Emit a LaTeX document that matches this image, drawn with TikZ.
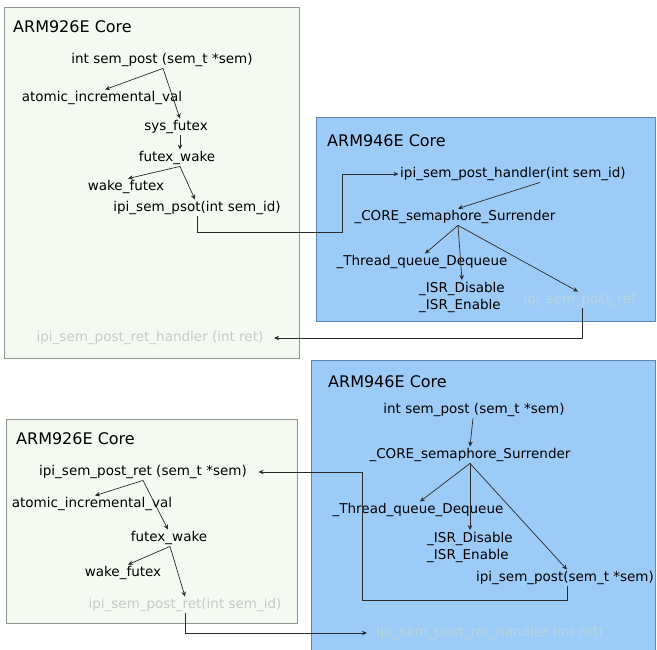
\documentclass[tikz,border=0pt]{standalone}
\usepackage{fontspec}
\setmainfont{DejaVu Sans}
\usetikzlibrary{arrows.meta}
\definecolor{gfill}{HTML}{F4FAF2}
\definecolor{gline}{HTML}{8E958E}
\definecolor{bfill}{HTML}{9DCBF7}
\definecolor{bline}{HTML}{5B87B5}
\definecolor{lnk}{HTML}{2A2A2A}
\definecolor{fadeg}{HTML}{C6CBC6}
\definecolor{fadeb}{HTML}{B8D4DC}
\tikzset{
  greenbox/.style={draw=gline, fill=gfill, line width=0.8pt},
  bluebox/.style={draw=bline, fill=bfill, line width=0.8pt},
  ttl/.style={anchor=west, inner sep=0pt, font=\fontsize{16}{19}\selectfont},
  fn/.style={inner sep=1.5pt, font=\fontsize{13.5}{17}\selectfont},
  fnfade/.style={fn, text=fadeg},
  fnfadeb/.style={fn, text=fadeb},
  arr/.style={draw=lnk, line width=0.7pt, -{Stealth[length=5pt,width=4.5pt]}},
}
\begin{document}
\begin{tikzpicture}[x=1pt,y=-1pt]
\useasboundingbox (0,0) rectangle (657,650);
% boxes
\path[greenbox] (4,7) rectangle (299,358);
\path[bluebox] (316,117) rectangle (655,321);
\path[bluebox] (311,360) rectangle (655,660);
\path[greenbox] (6,419) rectangle (297,623);

% ---------- top left ----------
\node[ttl] (t1) at (13,27) {ARM926E Core};
\node[fn] (a1) at (162,60) {int sem\_post (sem\_t *sem)};
\node[fn] (a2) at (102,98) {atomic\_incremental\_val};
\node[fn] (a3) at (176,127) {sys\_futex};
\node[fn] (a4) at (177,158) {futex\_wake};
\node[fn] (a5) at (126,187) {wake\_futex};
\node[fn] (a6) at (197,208) {ipi\_sem\_psot(int sem\_id)};
\node[fnfade] (a7) at (150,338) {ipi\_sem\_post\_ret\_handler (int ret)};

% ---------- top right ----------
\node[ttl] (t2) at (327,141) {ARM946E Core};
\node[fn] (c1) at (513,174) {ipi\_sem\_post\_handler(int sem\_id)};
\node[fn] (c2) at (455,217) {\_CORE\_semaphore\_Surrender};
\node[fn] (c3) at (422,262) {\_Thread\_queue\_Dequeue};
\node[fn, align=left] (c4) at (462,297) {\_ISR\_Disable\\\_ISR\_Enable};
\node[fnfadeb] (c5) at (580,300) {ipi\_sem\_post\_ret};

% ---------- bottom right ----------
\node[ttl] (t3) at (328,382) {ARM946E Core};
\node[fn] (d1) at (474,410) {int sem\_post (sem\_t *sem)};
\node[fn] (d2) at (470,455) {\_CORE\_semaphore\_Surrender};
\node[fn] (d3) at (418,510) {\_Thread\_queue\_Dequeue};
\node[fn, align=left] (d4) at (470,547) {\_ISR\_Disable\\\_ISR\_Enable};
\node[fn] (d5) at (565,578) {ipi\_sem\_post(sem\_t *sem)};
\node[fnfadeb] (d6) at (490,633) {ipi\_sem\_post\_ret\_handler (int ret)};

% ---------- bottom left ----------
\node[ttl] (t4) at (16,439) {ARM926E Core};
\node[fn] (e1) at (143,472) {ipi\_sem\_post\_ret (sem\_t *sem)};
\node[fn] (e2) at (92,504) {atomic\_incremental\_val};
\node[fn] (e3) at (169,538) {futex\_wake};
\node[fn] (e4) at (123,573) {wake\_futex};
\node[fnfade] (e5) at (185,605) {ipi\_sem\_post\_ret(int sem\_id)};

\coordinate (j1) at (342,232);
\coordinate (j2) at (362,600);

% connectors top
\draw[arr] ([xshift=1pt]a1.south) -- ([xshift=3pt]a2.north);
\draw[arr] ([xshift=1pt]a1.south) -- ([xshift=4pt]a3.north);
\draw[arr] ([xshift=4pt]a3.south) -- ([xshift=3pt]a4.north);
\draw[arr] ([xshift=3pt]a4.south) -- ([xshift=2pt]a5.north);
\draw[arr] ([xshift=3pt]a4.south) -- ([xshift=-2pt]a6.north);
\draw[arr] (a6.south) |- (j1) |- (c1.west);
\draw[arr] ([xshift=27pt]c1.south) -- ([xshift=3pt]c2.north);
\draw[arr] ([xshift=3pt]c2.south) -- ([xshift=3pt]c3.north);
\draw[arr] ([xshift=3pt]c2.south) -- (c4.north);
\draw[arr] ([xshift=3pt]c2.south) -- ([xshift=-2pt]c5.north);
\draw[arr] ([xshift=2pt]c5.south) |- ([xshift=9pt]a7.east);

% connectors bottom
\draw[arr] ([xshift=-1pt]d1.south) -- (d2.north);
\draw[arr] (d2.south) -- ([xshift=2pt]d3.north);
\draw[arr] (d2.south) -- (d4.north);
\draw[arr] (d2.south) -- ([xshift=2pt]d5.north);
\draw[arr] ([xshift=2pt]d5.south) |- (j2) |- ([xshift=10pt]e1.east);
\draw[arr] (e1.south) -- ([xshift=3pt]e2.north);
\draw[arr] (e1.south) -- ([xshift=-1pt]e3.north);
\draw[arr] ([xshift=1pt]e3.south) -- ([xshift=5pt]e4.north);
\draw[arr] ([xshift=1pt]e3.south) -- (e5.north);
\draw[arr] (e5.south) |- ([xshift=-8pt]d6.west);
\end{tikzpicture}
\end{document}
